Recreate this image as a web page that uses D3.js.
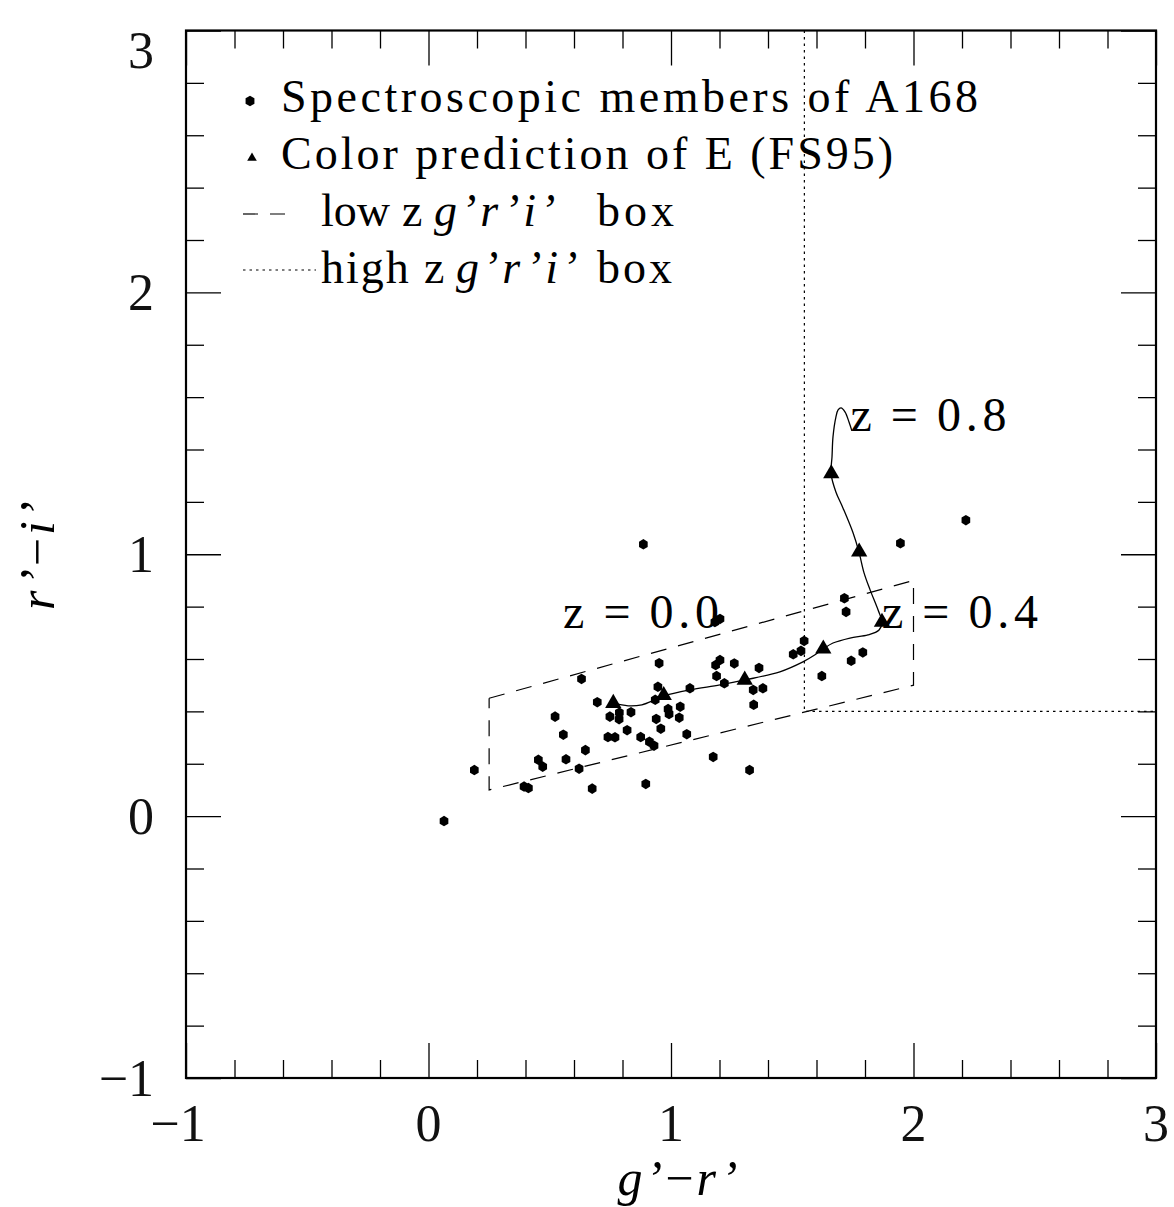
<!DOCTYPE html>
<html><head><meta charset="utf-8">
<script src="https://cdn.jsdelivr.net/npm/d3@7"></script>
<style>html,body{margin:0;padding:0;background:#fff;}svg{display:block;}</style>
</head><body>
<script>
// ---- data ----
const memberGR = [0.064,0.189,0.394,0.412,0.453,0.471,0.522,0.556,0.567,0.621,0.631,0.647,0.675,0.696,0.740,0.769,0.748,0.787,0.786,0.819,0.835,0.875,0.896,0.886,0.911,0.930,0.935,0.939,0.946,0.951,0.958,0.988,0.992,1.034,1.038,1.065,1.078,1.174,1.184,1.202,1.188,1.220,1.261,1.181,1.202,1.324,1.339,1.379,1.341,1.363,1.504,1.536,1.549,1.622,1.715,1.722,1.743,1.791,1.946,2.216];
const memberRI = [-0.019,0.176,0.113,0.107,0.215,0.189,0.380,0.311,0.217,0.181,0.524,0.252,0.105,0.435,0.302,0.301,0.380,0.395,0.370,0.328,0.397,0.302,0.123,1.038,0.284,0.269,0.444,0.371,0.494,0.584,0.334,0.409,0.390,0.376,0.418,0.313,0.488,0.226,0.577,0.596,0.535,0.507,0.583,0.741,0.753,0.176,0.482,0.488,0.425,0.566,0.618,0.631,0.669,0.535,0.832,0.780,0.593,0.625,1.042,1.130];
const predGR = [0.762,0.970,1.304,1.628,1.870,1.776,1.661];
const predRI = [0.431,0.461,0.520,0.639,0.741,1.009,1.308];
const trackGR = [0.761,0.823,0.880,0.934,0.971,1.078,1.202,1.305,1.449,1.544,1.594,1.627,1.668,1.738,1.812,1.858,1.870,1.854,1.821,1.796,1.775,1.751,1.709,1.680,1.660,1.664,1.668,1.680,1.689,1.701,1.718,1.734,1.746];
const trackRI = [0.432,0.421,0.425,0.444,0.459,0.482,0.501,0.520,0.551,0.589,0.616,0.638,0.661,0.680,0.692,0.711,0.741,0.787,0.864,0.929,1.009,1.081,1.177,1.238,1.307,1.372,1.448,1.524,1.551,1.559,1.543,1.505,1.471];
const lowBoxGR = [0.25,2.0,2.0,0.25,0.25];
const lowBoxRI = [0.45,0.9,0.5,0.1,0.45];
const highBoxGR = [1.55,1.55,3.0];
const highBoxRI = [3.0,0.4,0.4];
const zLabels = ["z=0.0","z=0.4","z=0.8"];
const zLabelGR = [0.555,1.87,1.74];
const zLabelRI = [0.72,0.72,1.47];
const majorTicks = [-1,0,1,2,3];
const minorTicks = d3.range(-1,3.0001,0.2).map(v=>+v.toFixed(1)).filter(v=>!majorTicks.includes(v));
const tickLabels = ["\u22121","0","1","2","3"];

// ---- layout ----
const W=1174,H=1207;
const x = d3.scaleLinear().domain([-1,3]).range([186,1156]);
const y = d3.scaleLinear().domain([-1,3]).range([1078,30.5]);
const FONT = "'Liberation Serif','DejaVu Serif',serif";

const svg = d3.select("body").append("svg").attr("width",W).attr("height",H)
  .style("font-family",FONT);

// hexagon symbol
const hexagon = { draw(ctx,size){ const r=Math.sqrt(size/(1.5*Math.sqrt(3)));
  for(let i=0;i<6;i++){ const a=Math.PI/2+i*Math.PI/3; const px=r*Math.cos(a)*0.95, py=r*Math.sin(a);
    if(i===0)ctx.moveTo(px,py); else ctx.lineTo(px,py);} ctx.closePath(); } };

// ---- axes (ticks on all four sides, pointing inward) ----
function addAxis(axisFn, scale, transform, vals, len){
  svg.append("g").attr("transform",transform)
    .call(axisFn(scale).tickValues(vals).tickSize(len).tickFormat(""))
    .call(g=>{g.select(".domain").remove(); g.selectAll("line").attr("stroke","#000").attr("stroke-width",1.3);});
}
const [x0,x1]=x.range(), [y0,y1]=[y.range()[1],y.range()[0]];
addAxis(d3.axisBottom,x,`translate(0,${y1})`,minorTicks,-18);
addAxis(d3.axisBottom,x,`translate(0,${y1})`,majorTicks,-35);
addAxis(d3.axisTop,x,`translate(0,${y0})`,minorTicks,-18);
addAxis(d3.axisTop,x,`translate(0,${y0})`,majorTicks,-35);
addAxis(d3.axisLeft,y,`translate(${x0},0)`,minorTicks,-18);
addAxis(d3.axisLeft,y,`translate(${x0},0)`,majorTicks,-35);
addAxis(d3.axisRight,y,`translate(${x1},0)`,minorTicks,-18);
addAxis(d3.axisRight,y,`translate(${x1},0)`,majorTicks,-35);

// frame
svg.append("rect").attr("x",x0).attr("y",y0).attr("width",x1-x0).attr("height",y1-y0)
  .attr("fill","none").attr("stroke","#000").attr("stroke-width",2.2);

// tick labels
svg.append("g").selectAll("text").data(majorTicks).join("text")
  .attr("x",d=>x(d)-(d<0?8:0)).attr("y",1141).attr("text-anchor","middle")
  .attr("font-size",52).attr("fill","#111").text((d,i)=>tickLabels[i]);
svg.append("g").selectAll("text").data(majorTicks).join("text")
  .attr("x",154).attr("y",d=>Math.max(y(d),50)+18).attr("text-anchor","end")
  .attr("font-size",52).attr("fill","#111").text((d,i)=>tickLabels[i]);

// axis titles
const xt = svg.append("text").attr("x",(x0+x1)/2+8).attr("y",1195).attr("text-anchor","middle")
  .attr("font-size",50).attr("letter-spacing",3);
xt.append("tspan").attr("font-style","italic").text("g\u2019");
xt.append("tspan").text("\u2212");
xt.append("tspan").attr("font-style","italic").text("r\u2019");
const yt = svg.append("text").attr("transform",`translate(54,${(y0+y1)/2}) rotate(-90)`).attr("text-anchor","middle")
  .attr("font-size",50).attr("letter-spacing",3);
yt.append("tspan").attr("font-style","italic").text("r\u2019");
yt.append("tspan").text("\u2212");
yt.append("tspan").attr("font-style","italic").text("i\u2019");

// ---- boxes ----
const line = d3.line().x(d=>x(d[0])).y(d=>y(d[1]));
svg.append("path").datum(d3.zip(lowBoxGR,lowBoxRI)).attr("d",line)
  .attr("fill","none").attr("stroke","#000").attr("stroke-width",1.2).attr("stroke-dasharray","16,12");
svg.append("path").datum(d3.zip(highBoxGR,highBoxRI)).attr("d",line)
  .attr("fill","none").attr("stroke","#000").attr("stroke-width",1.2).attr("stroke-dasharray","2.5,4");

// ---- E track ----
const track = d3.line().x(d=>x(d[0])).y(d=>y(d[1])).curve(d3.curveCatmullRom.alpha(0.5));
svg.append("path").datum(d3.zip(trackGR,trackRI)).attr("d",track)
  .attr("fill","none").attr("stroke","#000").attr("stroke-width",1.3);

// ---- members ----
svg.append("g").selectAll("path").data(d3.zip(memberGR,memberRI)).join("path")
  .attr("transform",d=>`translate(${x(d[0])},${y(d[1])})`)
  .attr("d",d3.symbol(hexagon,72)).attr("fill","#000");

// ---- predictions ----
svg.append("g").selectAll("path").data(d3.zip(predGR,predRI)).join("path")
  .attr("transform",d=>`translate(${x(d[0])},${y(d[1])})`)
  .attr("d",d3.symbol(d3.symbolTriangle,115)).attr("fill","#000");

// z labels
svg.append("g").selectAll("text").data(zLabels).join("text")
  .attr("x",(d,i)=>x(zLabelGR[i])).attr("y",(d,i)=>y(zLabelRI[i]))
  .attr("font-size",48).attr("textLength",156).attr("lengthAdjust","spacing")
  .text(d=>d.replace("=","\u2009=\u2009"));

// ---- legend ----
const lg = svg.append("g");
lg.append("path").attr("transform","translate(250,101)").attr("d",d3.symbol(hexagon,75)).attr("fill","#000");
lg.append("text").attr("x",281).attr("y",112).attr("font-size",46)
  .attr("textLength",697).attr("lengthAdjust","spacing").text("Spectroscopic members of A168");
lg.append("path").attr("transform","translate(252,158)").attr("d",d3.symbol(d3.symbolTriangle,40)).attr("fill","#000");
lg.append("text").attr("x",281).attr("y",169).attr("font-size",46)
  .attr("textLength",612).attr("lengthAdjust","spacing").text("Color prediction of E (FS95)");
lg.append("line").attr("x1",243).attr("x2",292).attr("y1",214).attr("y2",214)
  .attr("stroke","#000").attr("stroke-width",1.2).attr("stroke-dasharray","15,12");
lg.append("line").attr("x1",243).attr("x2",316).attr("y1",270).attr("y2",270)
  .attr("stroke","#000").attr("stroke-width",1.2).attr("stroke-dasharray","2.5,4");
function legRow(yb, parts){
  parts.forEach(p=>{
    const t = lg.append("text").attr("x",p[0]).attr("y",yb).attr("font-size",46)
      .attr("font-style",p[2]?"italic":"normal").text(p[1]);
    if(p[3]) t.attr("letter-spacing",p[3]);
  });
}
legRow(226,[[321,"low",0,0],[402,"z",0,0],[434,"g\u2019r\u2019i\u2019",1,4],[597,"box",0,4]]);
legRow(283,[[321,"high",0,2],[424,"z",0,0],[456,"g\u2019r\u2019i\u2019",1,4],[597,"box",0,3]]);
</script>
</body></html>
